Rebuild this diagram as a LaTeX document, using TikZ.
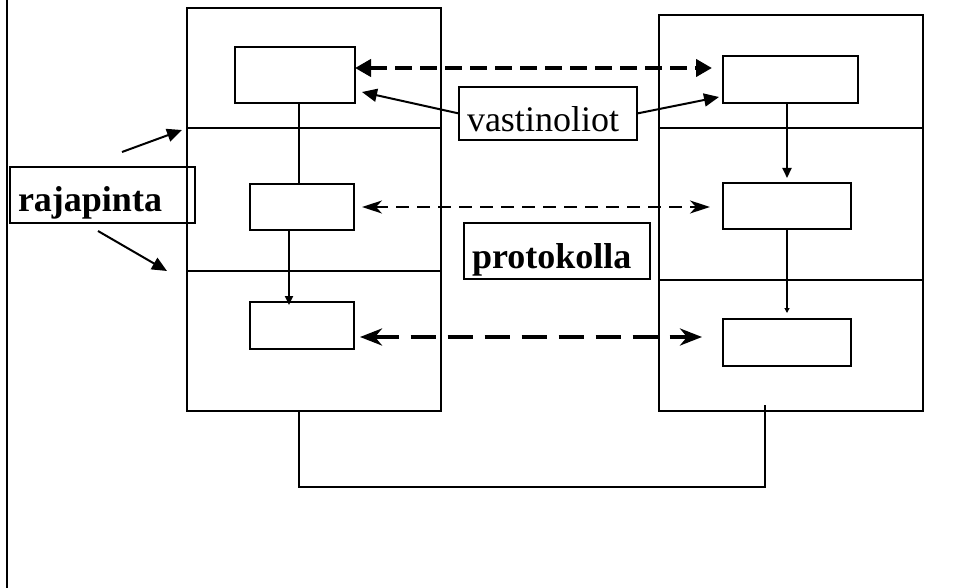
\documentclass[tikz,border=0pt]{standalone}
\usepackage{fontspec}
\setmainfont{Liberation Serif}
\usetikzlibrary{arrows.meta}

\begin{document}
\begin{tikzpicture}[x=1pt, y=-1pt,
	box/.style={draw, line width=2pt, inner sep=0pt, outer sep=0pt},
	tag/.style={box, minimum height=56pt, inner xsep=8pt, text height=34pt, text depth=0pt, align=left, font=\fontsize{36}{40}\selectfont},
	pointer/.style={line width=2pt, -{Triangle[length=15pt,width=13pt]}},
	peer/.style={line width=4pt, dash pattern=on 17pt off 8pt, {Triangle[length=16pt,width=17pt]}-{Triangle[length=16pt,width=17pt]}},
	call/.style={line width=2pt, dash pattern=on 13pt off 8pt, {Stealth[length=20pt,width=13pt,inset=6pt]}-{Stealth[length=20pt,width=13pt,inset=6pt]}},
	reply/.style={line width=4pt, dash pattern=on 25pt off 12pt, {Stealth[length=22pt,width=17pt,inset=7pt]}-{Stealth[length=22pt,width=17pt,inset=7pt]}}]
	\useasboundingbox (0,0) rectangle (953,588);
	\draw[line width=2pt] (7,0) -- (7,588);

	% the two stacks
	\node[box, minimum width=254pt, minimum height=403pt] (lstack) at (314,209.5) {};
	\node[box, minimum width=264pt, minimum height=396pt] (rstack) at (791,213) {};
	\draw[line width=2pt] (lstack.west |- 0,128) -- (lstack.east |- 0,128);
	\draw[line width=2pt] (lstack.west |- 0,271) -- (lstack.east |- 0,271);
	\draw[line width=2pt] (rstack.west |- 0,128) -- (rstack.east |- 0,128);
	\draw[line width=2pt] (rstack.west |- 0,280) -- (rstack.east |- 0,280);

	% layer entities
	\node[box, minimum width=120pt, minimum height=56pt] (lt) at (295,75) {};
	\node[box, minimum width=104pt, minimum height=46pt] (lm) at (302,207) {};
	\node[box, minimum width=104pt, minimum height=47pt] (lb) at (302,325.5) {};
	\node[box, minimum width=135pt, minimum height=47pt] (rt) at (790.5,79.5) {};
	\node[box, minimum width=128pt, minimum height=46pt] (rm) at (787,206) {};
	\node[box, minimum width=128pt, minimum height=47pt] (rb) at (787,342.5) {};

	% labels
	\node[tag, minimum height=53pt, text height=37pt, text width=162pt] (vast) at (548,113.5) {vastinoliot};
	\node[tag, text width=170pt, font=\fontsize{36}{40}\selectfont\bfseries] (prot) at (557,251) {protokolla};
	\node[tag, text width=169pt, font=\fontsize{36}{40}\selectfont\bfseries] (raja) at (102.5,195) {rajapinta};

	\coordinate (lx) at (299,0);
	\coordinate (lx2) at (289,0);
	\coordinate (ya) at (0,68);
	\coordinate (yc) at (0,337);
	\coordinate (vl) at (362,92);
	\coordinate (vr) at (719,97);
	\coordinate (ra1) at (122,152);
	\coordinate (ra2) at (182,130);
	\coordinate (rb1) at (98,231);
	\coordinate (rb2) at (167,271);
	\coordinate (rs) at (765,405);

	% peer links
	\draw[peer, shorten >=11pt] (lt.east |- ya) -- (rt.west |- ya);
	\draw[call, shorten <=8pt, shorten >=13pt] (lm.east) -- (lm.east -| rm.west);
	\draw[reply, shorten <=6pt, shorten >=21pt] (lb.east |- yc) -- (rb.west |- yc);

	\draw[pointer] (vast.west) -- (vl);
	\draw[pointer] (vast.east) -- (vr);
	\draw[pointer] (ra1) -- (ra2);
	\draw[pointer] (rb1) -- (rb2);

	% inside the stacks
	\draw[line width=2pt] (lt.south -| lx) -- (lm.north -| lx);
	\draw[line width=2pt, -{Triangle[length=9pt,width=8pt]}, shorten >=-3pt] (lm.south -| lx2) -- (lb.north -| lx2);
	\draw[line width=2pt, -{Triangle[length=10pt,width=9pt]}, shorten >=5pt] (rt.south -| rm.north) -- (rm.north);
	\draw[line width=2pt, -{Triangle[length=5pt,width=5pt]}, shorten >=6pt] (rm.south) -- (rb.north);
	\draw[line width=2pt] (lstack.south -| lx) -- ++(0,76) -| (rs);
\end{tikzpicture}
\end{document}
